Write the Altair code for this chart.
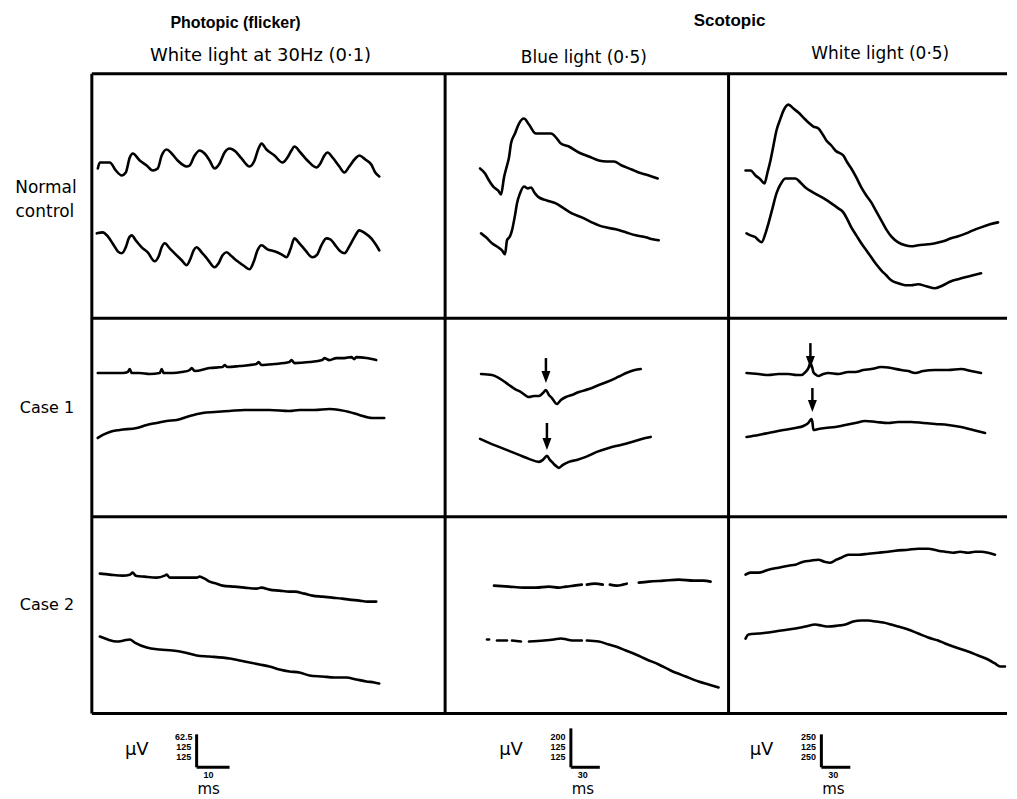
import altair as alt
import pandas as pd

# ---------------- layout (reference pixel frame) ----------------
COL_LEFT = [92, 446, 730]
ROW_TOP = [73, 318, 517]
ROW_BOTTOM = [318, 517, 714]
FRAME_RIGHT = 1009

# ---------------- trace data ----------------
# each trace: (t, v) with t = sweep time from panel start, v = deflection above panel floor
# Row 0: normal control
nc_flicker_1 = [(6,150),(8,156),(18,156),(24,148),(30,143),(34,146),(38,161),(41,165),(48,158),(55,153),(61,148),(66,150),(70,163),(75,169),(80,165),(86,158),(95,152),(98,153),(103,163),(108,168),(113,165),(118,158),(123,150),(128,155),(133,166),(138,170),(144,167),(150,160),(158,152),(163,158),(167,170),(170,175),(175,169),(183,163),(191,156),(196,161),(200,168),(203,172),(209,166),(216,158),(225,151),(229,155),(233,163),(236,166),(242,160),(248,152),(253,146),(258,152),(264,160),(268,163),(274,159),(280,154),(284,146),(288,142)]
nc_flicker_2 = [(5,85),(11,86),(16,82),(22,73),(26,67),(30,65),(34,71),(37,80),(40,83),(44,78),(50,71),(56,66),(63,57),(67,62),(70,71),(73,75),(78,70),(84,64),(90,58),(95,53),(99,60),(102,68),(105,71),(110,66),(116,59),(123,51),(127,55),(131,63),(135,66),(140,62),(146,57),(153,52),(158,49),(162,56),(166,68),(170,73),(176,69),(183,67),(190,64),(195,61),(199,69),(203,80),(208,75),(214,68),(221,61),(226,64),(230,73),(235,80),(239,79),(244,73),(249,67),(253,65),(258,72),(263,81),(268,88),(274,85),(280,80),(285,73),(288,68)]
nc_blue_1 = [(35,150),(40,145),(44,138),(49,131),(53,128),(56,124),(59,141),(62,153),(64,161),(66,175),(70,185),(74,195),(79,200),(84,194),(91,185),(99,185),(106,185),(112,180),(116,175),(124,172),(134,166),(144,162),(154,158),(162,157),(169,157),(177,153),(187,149),(194,146),(201,144),(207,142),(213,140)]
nc_blue_2 = [(36,85),(41,81),(47,75),(53,71),(57,68),(60,64),(62,78),(65,82),(67,88),(70,103),(72,115),(75,125),(79,132),(83,130),(86,131),(90,125),(94,121),(102,118),(111,115),(119,110),(127,105),(137,101),(147,96),(154,93),(161,91),(171,89),(181,86),(191,83),(201,81),(208,79),(214,78)]
nc_white_1 = [(17,148),(22,148),(27,143),(32,139),(36,135),(39,146),(42,158),(45,173),(48,188),(52,200),(55,208),(60,214),(65,210),(70,206),(75,201),(80,196),(85,192),(90,190),(95,183),(98,178),(103,173),(107,168),(115,163),(119,156),(123,150),(128,141),(133,131),(138,123),(143,116),(148,107),(153,98),(158,89),(163,82),(170,76),(177,73),(183,72),(190,73),(200,74),(207,75),(215,77),(223,80),(230,82),(238,85),(245,88),(253,91),(262,94),(270,96)]
nc_white_2 = [(18,85),(22,83),(27,81),(30,78),(33,76),(37,85),(40,95),(44,110),(48,125),(52,134),(57,140),(62,140),(67,140),(72,136),(77,131),(83,127),(90,123),(97,119),(103,115),(110,110),(115,106),(119,99),(123,91),(128,83),(133,75),(138,68),(143,61),(148,54),(153,48),(158,43),(163,38),(170,35),(177,33),(183,33),(190,34),(198,32),(207,30),(215,33),(223,37),(230,39),(237,41),(245,43),(253,45)]
# Row 1: case 1
c1_flicker_1 = [(6,144),(18,144),(31,144),(36,145),(38,148),(40,144),(48,144),(58,143),(68,144),(70,148),(72,144),(81,144),(90,145),(98,147),(100,149),(103,146),(118,149),(131,150),(133,152),(136,150),(148,151),(165,153),(167,155),(170,152),(183,153),(198,155),(200,157),(203,154),(218,155),(231,157),(233,159),(238,157),(245,159),(253,159),(260,160),(263,158),(265,160),(275,159),(285,157)]
c1_flicker_2 = [(6,79),(11,82),(18,85),(28,87),(45,89),(55,92),(65,94),(75,96),(85,97),(98,101),(111,104),(123,105),(138,106),(153,107),(165,107),(178,107),(198,106),(208,107),(223,107),(238,108),(248,107),(258,105),(268,102),(281,99),(293,99)]
c1_blue_1 = [(36,143),(47,142),(54,139),(64,132),(70,128),(76,125),(84,120),(89,121),(94,121),(98,124),(101,127),(104,122),(107,119),(112,113),(116,117),(121,120),(127,122),(134,125),(144,128),(154,132),(162,135),(171,139),(177,142),(184,145),(190,147),(196,148)]
c1_blue_2 = [(35,78),(44,74),(54,70),(64,66),(74,62),(84,58),(94,55),(98,57),(102,61),(105,57),(107,55),(111,51),(114,49),(118,52),(124,55),(132,57),(141,60),(152,65),(164,69),(176,72),(187,75),(197,78),(206,80)]
c1_white_1 = [(18,144),(30,143),(40,142),(50,143),(60,143),(68,142),(73,142),(77,145),(80,149),(82,154),(84,149),(85,145),(88,142),(90,141),(95,143),(100,144),(110,143),(120,145),(127,145),(135,147),(143,148),(153,150),(163,149),(173,147),(180,146),(187,144),(195,146),(207,147),(220,147),(233,148),(243,146),(253,144)]
c1_white_2 = [(18,80),(30,82),(40,84),(55,87),(67,89),(75,91),(80,94),(83,98),(84,95),(85,87),(90,88),(97,89),(107,90),(117,92),(127,94),(137,96),(148,95),(160,94),(170,95),(183,95),(195,94),(207,93),(220,92),(233,90),(245,87),(257,84)]
# Row 2: case 2
c2_flicker_1 = [(8,140),(18,139),(31,138),(38,139),(41,141),(44,138),(53,137),(65,136),(73,138),(75,139),(78,136),(91,136),(105,136),(108,137),(113,135),(118,132),(125,130),(131,128),(143,127),(153,126),(165,125),(170,126),(178,124),(188,123),(198,122),(203,122),(213,120),(221,118),(231,117),(241,116),(251,115),(258,114),(268,113),(276,112),(285,112)]
c2_flicker_2 = [(8,77),(16,74),(25,72),(32,73),(38,74),(43,71),(55,66),(68,64),(81,63),(93,61),(105,58),(118,57),(138,55),(153,52),(168,49),(178,47),(188,44),(198,42),(208,41),(218,38),(231,37),(243,36),(255,36),(265,34),(275,32),(283,31),(288,30)]
c2_blue_1a = [(49,128),(64,127),(79,126),(91,126),(104,127),(114,126),(121,127),(129,128),(137,129)]
c2_blue_1b = [(142,129),(150,130),(158,129)]
c2_blue_1c = [(165,129),(172,128),(178,129),(182,130)]
c2_blue_1d = [(194,131),(204,132),(219,133),(234,134),(249,133),(259,133),(266,132)]
c2_blue_2a = [(42,74),(44,74)]
c2_blue_2b = [(52,73),(62,73)]
c2_blue_2c = [(67,73),(76,72)]
c2_blue_2d = [(84,72),(99,73),(109,74),(116,75),(122,74),(129,73),(137,73)]
c2_blue_2e = [(142,73),(154,72),(164,69),(171,67),(181,63),(191,59),(202,54),(214,49),(226,43),(241,37),(254,32),(264,29),(274,26)]
c2_white_1 = [(17,139),(22,141),(30,141),(40,144),(50,146),(60,148),(67,149),(75,152),(82,153),(90,154),(96,152),(102,151),(108,154),(113,156),(120,159),(130,159),(140,160),(150,161),(160,162),(167,163),(180,164),(190,165),(200,165),(210,163),(217,162),(225,161),(232,162),(240,161),(247,162),(253,162),(260,161),(267,159)]
c2_white_2 = [(17,75),(20,79),(30,80),(40,81),(53,83),(67,85),(77,87),(87,89),(93,88),(100,87),(110,88),(117,89),(125,92),(133,93),(140,93),(148,92),(155,91),(163,89),(170,87),(180,84),(190,80),(200,76),(210,73),(217,70),(228,66),(240,62),(250,58),(260,54),(267,50),(272,47),(277,47)]

TRACES = [
    (0, 0, "nc_flicker_1", nc_flicker_1), (0, 0, "nc_flicker_2", nc_flicker_2),
    (0, 1, "nc_blue_1", nc_blue_1), (0, 1, "nc_blue_2", nc_blue_2),
    (0, 2, "nc_white_1", nc_white_1), (0, 2, "nc_white_2", nc_white_2),
    (1, 0, "c1_flicker_1", c1_flicker_1), (1, 0, "c1_flicker_2", c1_flicker_2),
    (1, 1, "c1_blue_1", c1_blue_1), (1, 1, "c1_blue_2", c1_blue_2),
    (1, 2, "c1_white_1", c1_white_1), (1, 2, "c1_white_2", c1_white_2),
    (2, 0, "c2_flicker_1", c2_flicker_1), (2, 0, "c2_flicker_2", c2_flicker_2),
    (2, 1, "c2_blue_1a", c2_blue_1a), (2, 1, "c2_blue_1b", c2_blue_1b),
    (2, 1, "c2_blue_1c", c2_blue_1c), (2, 1, "c2_blue_1d", c2_blue_1d),
    (2, 1, "c2_blue_2a", c2_blue_2a), (2, 1, "c2_blue_2b", c2_blue_2b),
    (2, 1, "c2_blue_2c", c2_blue_2c), (2, 1, "c2_blue_2d", c2_blue_2d),
    (2, 1, "c2_blue_2e", c2_blue_2e),
    (2, 2, "c2_white_1", c2_white_1), (2, 2, "c2_white_2", c2_white_2),
]

# arrows marking the response in case 1: (row, col, t, v_start, v_tip)
ARROWS = [(1, 1, 101, 159, 134), (1, 1, 102, 94, 67), (1, 2, 82, 174, 149), (1, 2, 84, 129, 105)]

# labels
HEADERS = ["Photopic (flicker)", "Scotopic"]
HEADER_X = [236, 731]
HEADER_Y = [22, 20]
HEADER_SIZE = [16, 17]
SUBTITLES = ["White light at 30Hz (0\u00b71)", "Blue light (0\u00b75)", "White light (0\u00b75)"]
SUB_X = [261, 585, 882]
SUB_Y = [55, 57, 53]
SUB_SIZE = [18, 17, 17]
ROW_LABELS = ["Normal", "control", "Case 1", "Case 2"]
ROW_LABEL_X = [46, 45, 47, 47]
ROW_LABEL_Y = [188, 212, 408, 605]
ROW_LABEL_SIZE = [17, 17, 16, 16]

# calibration bars per column
CAL_UV = [["62.5", "125", "125"], ["200", "125", "125"], ["250", "125", "250"]]
CAL_MS = ["10", "30", "30"]
CAL_X = [197, 572, 823]
CAL_V_LEN = [33, 39, 33]
CAL_H_LEN = [33, 29, 29]
CAL_Y = 768

# ---------------- build tables ----------------
rows = []
for r, c, name, pts in TRACES:
    for i, (t, v) in enumerate(pts):
        rows.append({"x": COL_LEFT[c] + t, "y": ROW_BOTTOM[r] - v, "seg": name, "i": i})
df_lines = pd.DataFrame(rows)

frame = []
for yy in [ROW_TOP[0]] + ROW_BOTTOM:
    frame.append({"x": COL_LEFT[0], "x2": FRAME_RIGHT, "y": yy, "y2": yy})
for xx in COL_LEFT:
    frame.append({"x": xx, "x2": xx, "y": ROW_TOP[0], "y2": ROW_BOTTOM[-1]})
for k in range(3):
    frame.append({"x": CAL_X[k], "x2": CAL_X[k], "y": CAL_Y - CAL_V_LEN[k], "y2": CAL_Y})
df_frame = pd.DataFrame(frame)

cal_h = pd.DataFrame([{"x": CAL_X[k], "x2": CAL_X[k] + CAL_H_LEN[k], "y": CAL_Y, "y2": CAL_Y} for k in range(3)])

shafts, heads = [], []
for r, c, t, v0, v1 in ARROWS:
    x = COL_LEFT[c] + t
    shafts.append({"x": x, "x2": x, "y": ROW_BOTTOM[r] - v0, "y2": ROW_BOTTOM[r] - v1 - 8})
    heads.append({"x": x, "y": ROW_BOTTOM[r] - v1 - 6})
df_shafts = pd.DataFrame(shafts)
df_heads = pd.DataFrame(heads)

XS = alt.Scale(domain=[8, 1009], nice=False, zero=False)
YS = alt.Scale(domain=[8, 791], nice=False, zero=False, reverse=True)

def X(f="x"):
    return alt.X(f"{f}:Q", scale=XS, axis=None)

def Y(f="y"):
    return alt.Y(f"{f}:Q", scale=YS, axis=None)

lines = alt.Chart(df_lines).mark_line(color="black", strokeWidth=2.6, strokeJoin="round", strokeCap="round",
                                      interpolate="monotone").encode(
    x=X(), y=Y(), detail="seg:N", order="i:Q")
frame_l = alt.Chart(df_frame).mark_rule(color="black", strokeWidth=3).encode(x=X(), x2="x2:Q", y=Y(), y2="y2:Q")
cal_l = alt.Chart(cal_h).mark_rule(color="black", strokeWidth=3).encode(x=X(), x2="x2:Q", y=Y(), y2="y2:Q")
shaft_l = alt.Chart(df_shafts).mark_rule(color="black", strokeWidth=2.5).encode(x=X(), x2="x2:Q", y=Y(), y2="y2:Q")
head_l = alt.Chart(df_heads).mark_point(shape="M-0.75,-1L0.75,-1L0,1Z", filled=True, size=144, color="black", opacity=1).encode(x=X(), y=Y())

def text_layer(texts, xs, ys, sizes, weight="normal", font="DejaVu Sans", align="center"):
    if not isinstance(sizes, list):
        sizes = [sizes] * len(texts)
    d = pd.DataFrame({"text": texts, "x": xs, "y": ys, "s": sizes})
    return alt.Chart(d).mark_text(fontWeight=weight, font=font, align=align, baseline="middle", color="black").encode(
        x=X(), y=Y(), text="text:N", size=alt.Size("s:Q", scale=None, legend=None))

layers = [
    frame_l, cal_l, lines, shaft_l, head_l,
    text_layer(HEADERS, HEADER_X, HEADER_Y, HEADER_SIZE, "bold", "Liberation Sans"),
    text_layer(SUBTITLES, SUB_X, SUB_Y, SUB_SIZE),
    text_layer(ROW_LABELS, ROW_LABEL_X, ROW_LABEL_Y, ROW_LABEL_SIZE),
]
# calibration labels
uv_t, uv_x, uv_y = [], [], []
num_t, num_x, num_y = [], [], []
ms_t, ms_x, ms_y = [], [], []
for k in range(3):
    uv_t.append("\u00b5V"); uv_x.append(CAL_X[k] - 60); uv_y.append(CAL_Y - 17)
    for j, s in enumerate(CAL_UV[k]):
        num_t.append(s); num_x.append(CAL_X[k] - 13); num_y.append(CAL_Y - 30 + j * 10)
    ms_t.append(CAL_MS[k]); ms_x.append(CAL_X[k] + 12); ms_y.append(CAL_Y + 8)
    ms_t.append("ms"); ms_x.append(CAL_X[k] + 12); ms_y.append(CAL_Y + 22)
layers += [
    text_layer(uv_t, uv_x, uv_y, 18),
    text_layer(num_t, num_x, num_y, 9, "bold", "Liberation Sans"),
    text_layer(ms_t[0::2], ms_x[0::2], ms_y[0::2], 9, "bold", "Liberation Sans"),
    text_layer(ms_t[1::2], ms_x[1::2], ms_y[1::2], 15),
]

chart = alt.layer(*layers).properties(width=1001, height=783, padding=0, background="white").configure_view(stroke=None)
chart.save("out.html", embed_options={"renderer": "svg", "actions": False})
